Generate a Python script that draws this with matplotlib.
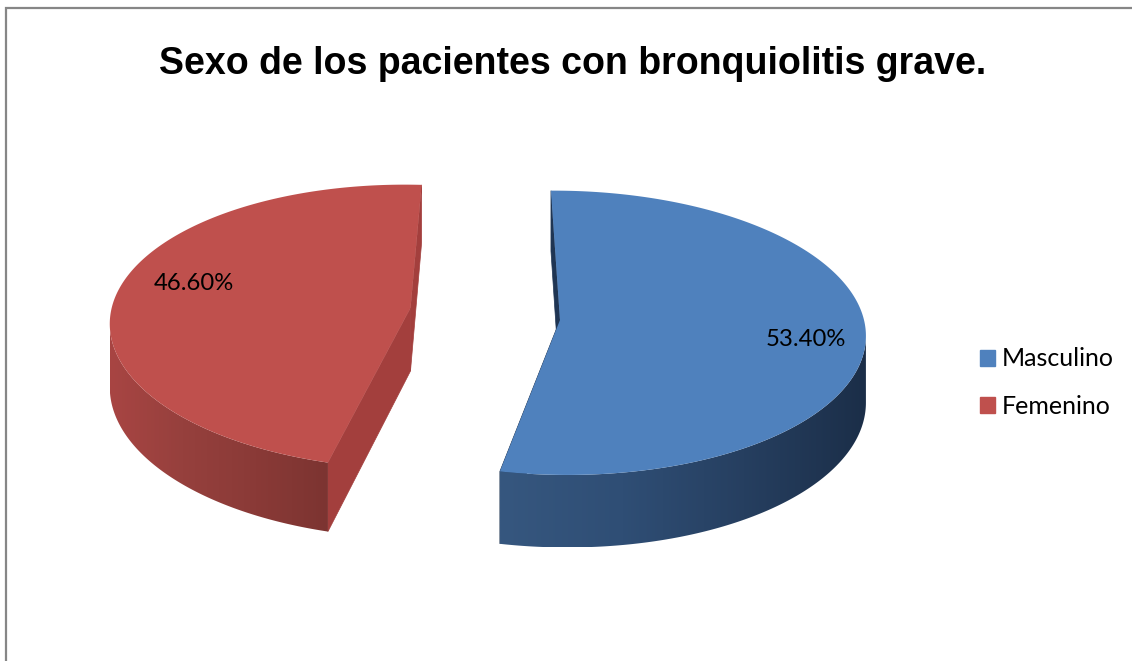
import numpy as np
import matplotlib
matplotlib.use('Agg')
import matplotlib.pyplot as plt
from matplotlib.colors import LinearSegmentedColormap
from matplotlib.patches import Patch, Polygon

title = 'Sexo de los pacientes con bronquiolitis grave.'
labels = ['Masculino', 'Femenino']
values = [53.4, 46.6]
value_labels = ['53.40%', '46.60%']

W, H = 1132, 661
RY = 141       # disc radius in pixels, vertical
PERSP = 0.09   # how fast the disc shrinks towards the back
CX = 486

# layout of each wedge, the picture is not a clean projection so each gets its own
wedges = [
    {'dx': 74, 'rx': 304, 'cy': 320, 'shift': -0.6, 'skew': 0, 'apex_y': 0, 'depth': 66,
     'top': '#4f81bd', 'side': '#1f3553',
     'grad': ['#36577f', '#2f4e75', '#263f60', '#1b2e48']},
    {'dx': -75.5, 'rx': 300, 'cy': 314, 'shift': 3.5, 'skew': -13, 'apex_y': -6, 'depth': 63,
     'top': '#bf504d', 'side': '#a33f3d',
     'grad': ['#a84543', '#96403d', '#8a3a37', '#7c3431']},
]


def project(w, r, theta):
    # theta in degrees clockwise from the back of the disc
    t = np.radians(theta)
    v = r * np.cos(t)
    u = r * np.sin(t)
    s = 1 / (1 + PERSP * v)
    x = CX + (w['dx'] + w['rx'] * u + w['skew'] * v) * s
    y = w['cy'] - RY * v * s
    if r == 0:
        y = y + w['apex_y']
    return x, y, w['depth'] * s


fig = plt.figure(figsize=(W / 100, H / 100), dpi=100)
ax = fig.add_axes([0, 0, 1, 1])
ax.axis('off')

# chart border, only top and left are in the crop
ax.plot([6, 6, W], [H, 7.5, 7.5], color='#868686', lw=1.6, solid_joinstyle='miter')

fracs = np.array(values) / sum(values) * 360
starts = [0, fracs[0]]

for w, a0, span in zip(wedges, starts, fracs):
    a0 = a0 + w['shift']
    a1 = a0 + span
    cmap = LinearSegmentedColormap.from_list('side', w['grad'])

    # flat walls along both cut edges
    for edge in [a0, a1]:
        cx_, cy_, cd = project(w, 0, edge)
        ox, oy, od = project(w, 1, edge)
        ax.fill([ox, cx_, cx_, ox], [oy, cy_, cy_ + cd, oy + od],
                color=w['side'], lw=0.5, zorder=2)

    th = np.linspace(a0, a1, 361)
    x, y, d = project(w, 1, th)

    # curved outer wall, from the widest point of the whole disc round the front
    full = np.linspace(0, 360, 721)
    fx = project(w, 1, full)[0]
    vis = (th >= full[np.argmax(fx)]) & (th <= full[np.argmin(fx)])
    wall = np.r_[np.c_[x[vis], y[vis]], np.c_[x[vis], y[vis] + d[vis]][::-1]]
    patch = Polygon(wall, closed=True, facecolor='none', edgecolor='none', zorder=3)
    ax.add_patch(patch)
    grad = np.linspace(0, 1, 256).reshape(1, -1)
    im = ax.imshow(grad, cmap=cmap, aspect='auto', zorder=3, interpolation='bilinear',
                   extent=[wall[:, 0].min(), wall[:, 0].max(), wall[:, 1].max(), wall[:, 1].min()])
    im.set_clip_path(patch)

    # top face
    px, py, _ = project(w, 0, a0)
    ax.fill(np.r_[px, x], np.r_[py, y], color=w['top'], lw=0, zorder=4)

ax.set_xlim(0, W)
ax.set_ylim(H, 0)

ax.text(572.5, 64, title, ha='center', va='center', fontsize=27,
        fontweight='bold', family='Liberation Sans', color='black')
ax.text(806, 340, value_labels[0], ha='center', va='center', fontsize=17.2,
        family='Lato', zorder=6)
ax.text(193.5, 283, value_labels[1], ha='center', va='center', fontsize=17.2,
        family='Lato', zorder=6)

handles = [Patch(color=w['top'], label=l) for w, l in zip(wedges, labels)]
ax.legend(handles=handles, loc='center left', bbox_to_anchor=(980 / W, 1 - 382.5 / H),
          frameon=False, prop={'family': 'Lato', 'size': 18}, handlelength=0.6,
          handleheight=0.6, handletextpad=0.27, labelspacing=0.96,
          borderpad=0, borderaxespad=0)

fig.savefig('out.png', dpi=100)
